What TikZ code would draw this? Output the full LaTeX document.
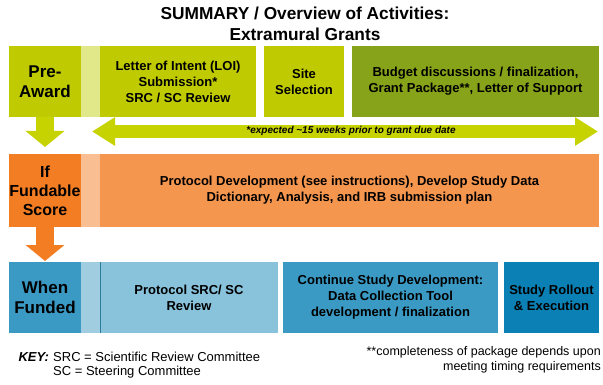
\documentclass[tikz,border=0pt]{standalone}
\usepackage{fontspec}
\setmainfont{Liberation Sans}
\usetikzlibrary{arrows.meta}

\definecolor{lime}{HTML}{BFCB00}
\definecolor{limearrow}{HTML}{C6D300}
\definecolor{limepale}{HTML}{E1E88A}
\definecolor{olive}{HTML}{87A31A}
\definecolor{orangedark}{HTML}{F37D22}
\definecolor{orangepale}{HTML}{F9BF92}
\definecolor{orangemid}{HTML}{F5964F}
\definecolor{bluemid}{HTML}{3A9AC4}
\definecolor{bluepale}{HTML}{A1CDE1}
\definecolor{bluelight}{HTML}{88C2DB}
\definecolor{bluedark}{HTML}{0B80B4}

\begin{document}
\begin{tikzpicture}
	[x=1pt, y=-1pt,
	 cell/.style={anchor=north west, inner sep=0pt, outer sep=0pt, align=center},
	 stage/.style={cell, minimum width=72pt, font=\fontsize{17}{20.5}\selectfont\bfseries},
	 task/.style={cell, font=\fontsize{13}{16}\selectfont\bfseries},
	 down/.style={line width=18pt, -{Triangle[length=16pt, width=38pt]}}]
	\useasboundingbox (0,0) rectangle (603,385);

	\node[font=\fontsize{17.3}{21.5}\selectfont\bfseries, align=center] (title) at (305,24)
		{SUMMARY / Overview of Activities:\\Extramural Grants};

	%stage boxes on the left
	\node[stage, fill=lime, minimum height=71pt] (pre) at (9,46) {Pre-\\Award};
	\node[stage, fill=orangedark, minimum height=73pt, font=\fontsize{16}{19}\selectfont\bfseries] (fund) at (9,154) {If\\Fundable\\Score};
	\node[stage, fill=bluemid, minimum height=71pt] (funded) at (9,262) {When\\Funded};

	%pale strips between stage and tasks
	\foreach \r/\y/\h/\c in {1/46/71/limepale, 2/154/73/orangepale, 3/262/71/bluepale}{
		\node[cell, fill=\c, minimum width=19pt, minimum height=\h pt] (strip\r) at (81,\y) {};
	}

	%row 1
	\node[task, fill=lime, minimum width=156pt, minimum height=71pt] (loi) at (100,46)
		{Letter of Intent (LOI)\\Submission*\\SRC / SC Review};
	\node[task, fill=lime, minimum width=80pt, minimum height=71pt] (site) at (264,46)
		{Site\\Selection};
	\node[task, fill=olive, minimum width=247pt, minimum height=71pt] (budget) at (352,46)
		{Budget discussions / finalization,\\Grant Package**, Letter of Support};

	%row 2
	\node[task, fill=orangemid, minimum width=499pt, minimum height=73pt] (proto) at (100,154)
		{Protocol Development (see instructions), Develop Study Data\\Dictionary, Analysis, and IRB submission plan};

	%row 3
	\node[task, fill=bluelight, minimum width=178pt, minimum height=71pt] (review) at (100,262)
		{Protocol SRC/ SC\\Review};
	\node[task, fill=bluemid, minimum width=215pt, minimum height=71pt] (cont) at (283,262)
		{Continue Study Development:\\Data Collection Tool\\development / finalization};
	\node[task, fill=bluedark, minimum width=95pt, minimum height=71pt] (rollout) at (504,262)
		{Study Rollout\\\& Execution};
	\draw[bluemid!80!black, line width=1pt] (review.north west) -- (review.south west);

	%arrows
	\draw[down, limearrow, shorten >=7pt] (pre.south) -- (fund.north);
	\draw[down, orangedark, shorten >=1pt] (fund.south) -- (funded.north);

	\coordinate (spanl) at (92,131.5);
	\coordinate (spanr) at (598,131.5);
	\draw[limearrow, line width=13pt, {Triangle[length=23pt, width=27pt]}-{Triangle[length=23pt, width=27pt]}]
		(spanl) -- (spanr);
	\node[font=\fontsize{10}{12}\selectfont\bfseries\itshape] (span) at (351,131)
		{*expected \textasciitilde15 weeks prior to grant due date};

	%footnotes
	\node[anchor=base west, font=\fontsize{13}{14.5}\selectfont\bfseries\itshape] (key) at (15,361) {KEY:};
	\node[anchor=north west, align=left, inner sep=0pt, font=\fontsize{13}{14.5}\selectfont] (abbr) at (53,351.5)
		{SRC = Scientific Review Committee\\SC = Steering Committee};
	\node[anchor=north east, align=right, inner sep=0pt, font=\fontsize{12.5}{15}\selectfont] (note) at (601,346)
		{**completeness of package depends upon\\meeting timing requirements};
\end{tikzpicture}
\end{document}
